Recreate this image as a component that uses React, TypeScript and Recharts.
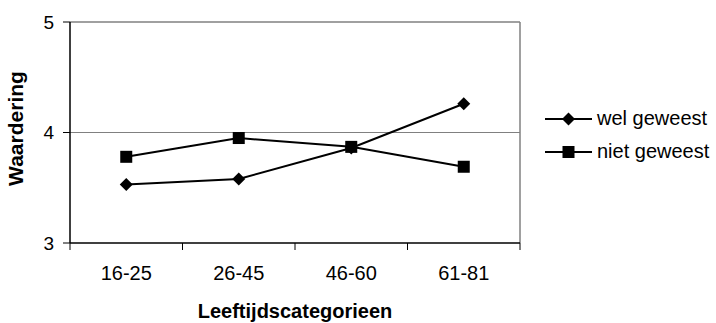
import { useEffect } from "react";
import {
  LineChart,
  Line,
  XAxis,
  YAxis,
  ReferenceLine,
  Label,
} from "recharts";

const categories = ["16-25", "26-45", "46-60", "61-81"];
const welGeweest = [3.53, 3.58, 3.86, 4.26];
const nietGeweest = [3.78, 3.95, 3.87, 3.69];
const yTicks = [3, 4, 5];

const FONT = "'Liberation Sans', Arial, sans-serif";

const data = categories.map((name, i) => ({
  name,
  pos: i + 0.5,
  wel: welGeweest[i],
  niet: nietGeweest[i],
}));

const xTicks = [0, 0.5, 1, 1.5, 2, 2.5, 3, 3.5, 4];

function Diamond(props: any) {
  const { cx, cy } = props;
  if (cx == null || cy == null) return null;
  const r = 6.5;
  return (
    <path
      d={`M${cx},${cy - r} L${cx + r},${cy} L${cx},${cy + r} L${cx - r},${cy} Z`}
      fill="#000"
    />
  );
}

function Square(props: any) {
  const { cx, cy } = props;
  if (cx == null || cy == null) return null;
  return <rect x={cx - 6} y={cy - 6} width={12} height={12} fill="#000" />;
}

function XTick(props: any) {
  const { x, y, payload } = props;
  const v = payload.value;
  if (Number.isInteger(v)) {
    return <line x1={x} y1={y} x2={x} y2={y + 7} stroke="#000" strokeWidth={1} />;
  }
  const idx = Math.floor(v);
  return (
    <text x={x} y={y + 37} textAnchor="middle" fontSize={20} fontFamily={FONT} fill="#000">
      {categories[idx]}
    </text>
  );
}

function LegendBox() {
  const rows = [
    { label: "wel geweest", shape: "diamond" },
    { label: "niet geweest", shape: "square" },
  ];
  return (
    <div style={{ position: "absolute", left: 545, top: 102 }}>
      {rows.map((r) => (
        <div
          key={r.label}
          style={{ display: "flex", alignItems: "center", height: 33, fontFamily: FONT, fontSize: 20 }}
        >
          <svg width={50} height={16}>
            <line x1={0} y1={8} x2={47} y2={8} stroke="#000" strokeWidth={2} />
            {r.shape === "diamond" ? (
              <path d="M23.5,1.5 L30,8 L23.5,14.5 L17,8 Z" fill="#000" />
            ) : (
              <rect x={17.5} y={2} width={12} height={12} fill="#000" />
            )}
          </svg>
          <span style={{ marginLeft: 2 }}>{r.label}</span>
        </div>
      ))}
    </div>
  );
}

export default function App() {
  useEffect(() => {
    document.body.style.margin = "0";
  }, []);

  return (
    <div style={{ position: "relative", width: 716, height: 323, background: "#fff" }}>
      <LineChart
        width={716}
        height={323}
        data={data}
        margin={{ top: 22, right: 196, left: 0, bottom: 0 }}
      >
        <ReferenceLine y={4} stroke="#808080" strokeWidth={1} />
        <ReferenceLine y={5} stroke="#808080" strokeWidth={1.5} />
        <ReferenceLine x={4} stroke="#808080" strokeWidth={1.5} />
        <XAxis
          dataKey="pos"
          type="number"
          domain={[0, 4]}
          ticks={xTicks}
          interval={0}
          tickSize={0}
          tickMargin={0}
          tickLine={false}
          tick={<XTick />}
          height={80}
          axisLine={{ stroke: "#000", strokeWidth: 1.5 }}
        >
          <Label
            value="Leeftijdscategorieen"
            position="insideBottom"
            offset={5}
            style={{ fontFamily: FONT, fontSize: 20, fontWeight: "bold", fill: "#000" }}
          />
        </XAxis>
        <YAxis
          domain={[3, 5]}
          ticks={yTicks}
          width={70}
          tickSize={7}
          tickMargin={9}
          axisLine={{ stroke: "#000", strokeWidth: 1.5 }}
          tickLine={{ stroke: "#000" }}
          tick={{ fontFamily: FONT, fontSize: 19, fill: "#000" }}
        >
          <Label
            value="Waardering"
            angle={-90}
            position="insideLeft"
            offset={16}
            dy={-4}
            style={{ fontFamily: FONT, fontSize: 21, fontWeight: "bold", fill: "#000", textAnchor: "middle" }}
          />
        </YAxis>
        <Line
          dataKey="wel"
          stroke="#000"
          strokeWidth={2}
          dot={<Diamond />}
          activeDot={false}
          isAnimationActive={false}
        />
        <Line
          dataKey="niet"
          stroke="#000"
          strokeWidth={2}
          dot={<Square />}
          activeDot={false}
          isAnimationActive={false}
        />
      </LineChart>
      <LegendBox />
    </div>
  );
}
